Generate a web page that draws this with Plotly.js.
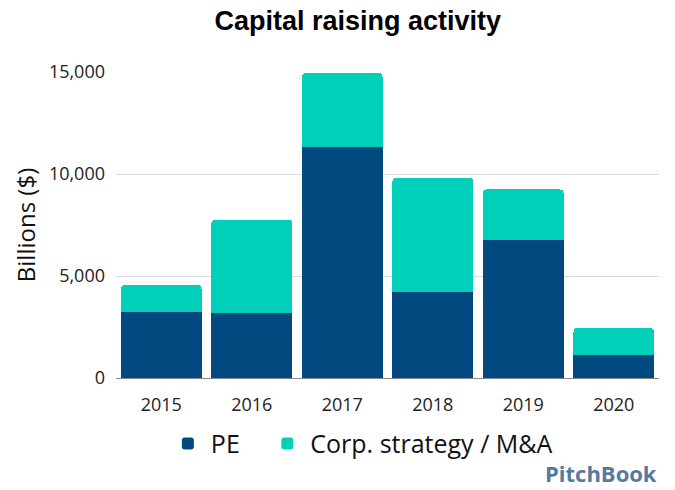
<!DOCTYPE html>
<html>
<head>
<meta charset="utf-8">
<script src="https://cdn.plot.ly/plotly-3.0.1.min.js"></script>
<style>html,body{margin:0;padding:0;background:#fff;}#chart{width:675px;height:490px;}</style>
</head>
<body>
<div id="chart"></div>
<script>
const years = ["2015", "2016", "2017", "2018", "2019", "2020"];
const peValues = [3250, 3190, 11340, 4215, 6745, 1125];
const corpValues = [1310, 4570, 3610, 5605, 2500, 1325];
const seriesNames = ["PE", "Corp. strategy / M&A"];
const yTickVals = [0, 5000, 10000, 15000];
const yTickText = ["0", "5,000", "10,000", "15,000"];

const baseFont = "'Open Sans', Lato, sans-serif";
const tickFont = {family: baseFont, size: 18, color: "#222222"};
const pad = "\u00a0\u00a0\u00a0";

const traces = [
  {type: "bar", name: seriesNames[0] + pad, x: years, y: peValues, marker: {color: "#02497f"}},
  {type: "bar", name: seriesNames[1], x: years, y: corpValues, marker: {color: "#00cfba"}}
];

const layout = {
  width: 675, height: 490,
  margin: {l: 116, r: 16, t: 72, b: 112},
  paper_bgcolor: "#ffffff", plot_bgcolor: "#ffffff",
  barmode: "stack",
  bargap: 0.11,
  barcornerradius: 4,
  title: {text: "<b>Capital raising activity</b>", xref: "container", x: 0.53, xanchor: "center", y: 0.958, yanchor: "middle",
          font: {family: "'Liberation Sans', Arial, sans-serif", size: 27, color: "#000000"}},
  xaxis: {type: "category", tickfont: tickFont, showgrid: false, showline: true, linecolor: "#888888", linewidth: 1,
          ticks: "", ticklabelstandoff: 10},
  yaxis: {range: [0, 15000], tickvals: yTickVals, ticktext: yTickText, tickfont: tickFont,
          showgrid: true, gridcolor: "#dcdcdc", gridwidth: 1, zeroline: false, showline: false, ticks: "",
          ticklabelstandoff: 10,
          title: {text: "Billions ($)", font: {family: baseFont, size: 24, color: "#111111"}, standoff: 6}},
  showlegend: true,
  legend: {orientation: "h", x: 0.09, xanchor: "left", y: -0.14, yanchor: "top",
           font: {family: baseFont, size: 25, color: "#111111"}, itemwidth: 36,
           traceorder: "normal"},
  annotations: [
    {text: "<b>PitchBook</b>", xref: "paper", yref: "paper", x: 1.0, xanchor: "right", y: -0.31, yanchor: "middle",
     showarrow: false, font: {family: baseFont, size: 22, color: "#55799f"}}
  ]
};

Plotly.newPlot("chart", traces, layout, {displayModeBar: false, staticPlot: true});
</script>
</body>
</html>
